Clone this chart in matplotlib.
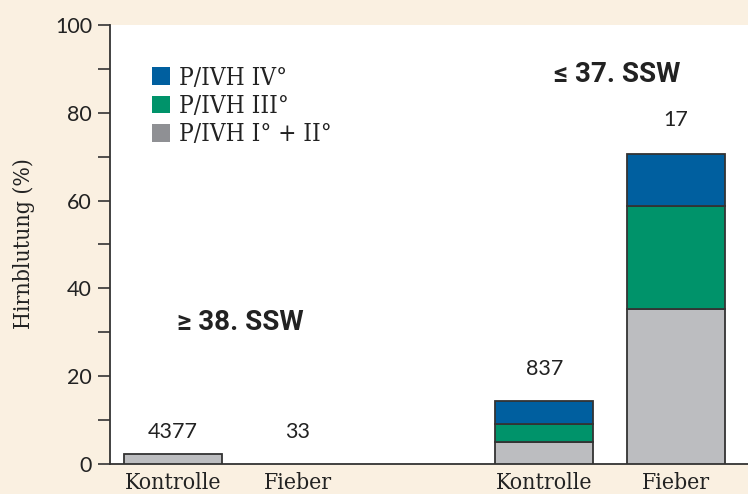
import numpy as np
import matplotlib.pyplot as plt
from matplotlib.patches import Patch

# data (percent of cases)
groups = ["Kontrolle", "Fieber", "Kontrolle", "Fieber"]
n_cases = ["4377", "33", "837", "17"]
grade_1_2 = [2.3, 0.0, 5.1, 35.3]
grade_3 = [0.0, 0.0, 3.9, 23.5]
grade_4 = [0.0, 0.0, 5.4, 11.8]
xpos = [0, 1, 2.97, 4.02]

series = [("P/IVH I° + II°", grade_1_2, "#bcbdc0", "#8f9094"),
          ("P/IVH III°", grade_3, "#00936a", "#00936a"),
          ("P/IVH IV°", grade_4, "#005f9f", "#005f9f")]

bg = "#faf0e1"
serif = ["DejaVu Serif"]
sans = ["Lato", "DejaVu Sans"]
ink = "#222222"

fig = plt.figure(figsize=(7.48, 4.94), dpi=100, facecolor=bg)
ax = fig.add_axes([110/748, 1-464/494, 1-110/748, (464-25)/494])
ax.set_facecolor("white")

bottom = np.zeros(len(xpos))
for name, vals, col, _ in series:
    vals = np.array(vals)
    mask = vals > 0
    ax.bar(np.array(xpos)[mask], vals[mask], width=0.784, bottom=bottom[mask],
           color=col, edgecolor="#333333", linewidth=1.3, zorder=3)
    bottom += vals

# n above the bars
offsets = [12, 22, 22, 24]
for x, top, lab, off in zip(xpos, bottom, n_cases, offsets):
    ax.annotate(lab, (x, top), xytext=(0, off*0.72), textcoords="offset points",
                ha="center", va="bottom", fontsize=15.5, family=sans, color=ink)

ax.text(0.536, 32.3, "≥ 38. SSW", ha="center", va="center", fontsize=20,
        fontweight="bold", family=["Roboto", "DejaVu Sans"], color=ink)
ax.text(3.55, 88.8, "≤ 37. SSW", ha="center", va="center", fontsize=20,
        fontweight="bold", family=["Roboto", "DejaVu Sans"], color=ink)

ax.set_xlim((110-173)/125, (748-173)/125)
ax.set_ylim(0, 100)
ax.set_xticks(xpos)
ax.set_xticklabels(groups, family=serif, fontstretch="condensed", fontsize=16.5, color=ink)
ax.tick_params(axis="x", length=0, pad=6)
ax.set_yticks(np.arange(0, 101, 20))
ax.set_yticks(np.arange(10, 100, 20), minor=True)
ax.set_yticklabels([str(v) for v in range(0, 101, 20)], family=sans, fontsize=15.5, color=ink)
ax.tick_params(axis="y", which="both", direction="out", length=9, width=1.2,
               color="#333333", pad=4)

for s in ["top", "right"]:
    ax.spines[s].set_visible(False)
for s in ["left", "bottom"]:
    ax.spines[s].set_color("#333333")
    ax.spines[s].set_linewidth(1.3)

ax.set_ylabel("Hirnblutung (%)", family=serif, fontstretch="condensed", fontsize=16.5, color=ink)
ax.yaxis.set_label_coords(-75/638, 0.503)

handles = [Patch(facecolor=leg_col, edgecolor="none", label=name)
           for name, _, _, leg_col in series[::-1]]
leg = ax.legend(handles=handles, loc="upper left", bbox_to_anchor=(0.031, 0.955),
                frameon=False, handlelength=0.75, handleheight=0.75,
                handletextpad=0.38, labelspacing=0.22,
                prop={"family": serif, "stretch": "condensed", "size": 17.5})
for t in leg.get_texts():
    t.set_color(ink)

fig.savefig("out.png", dpi=100, facecolor=bg)
